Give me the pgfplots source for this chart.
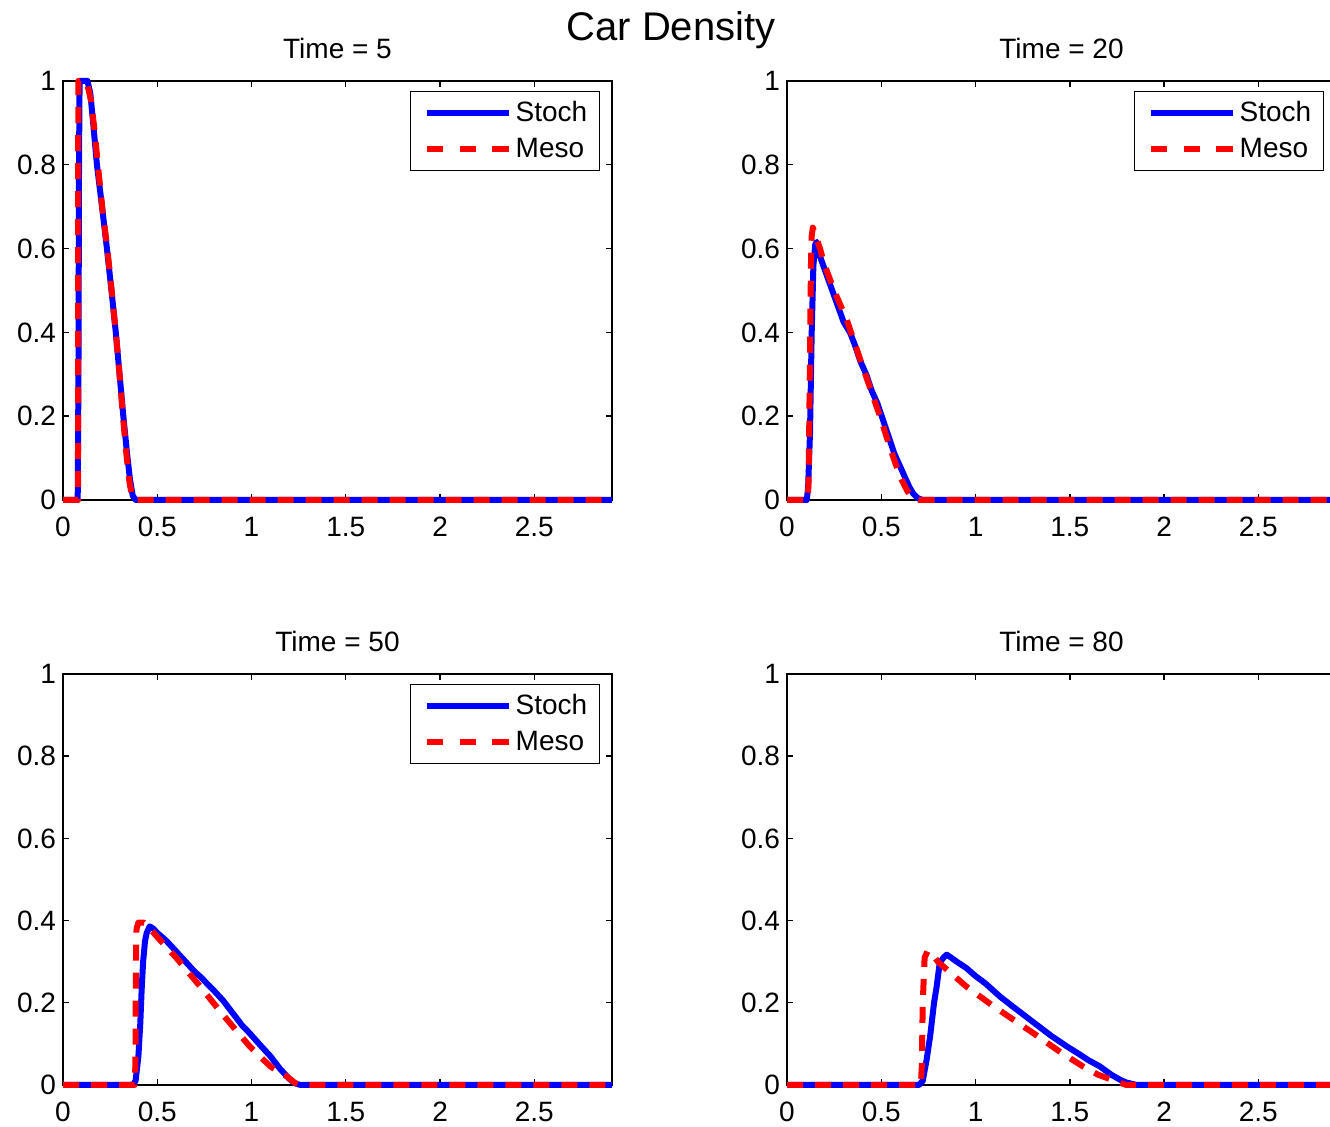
\documentclass[border=0pt]{standalone}
\usepackage{pgfplots}
\pgfplotsset{compat=1.18}
\usepackage{fontspec}
\setmainfont{Liberation Sans}

\pgfplotsset{
  carax/.style={
    scale only axis,
    width=274.5pt,
    xmin=0, xmax=2.912, ymin=0, ymax=1,
    xtick={0,0.5,1,1.5,2,2.5},
    ytick={0,0.2,0.4,0.6,0.8,1},
    yticklabels={0,0.2,0.4,0.6,0.8,1},
    xticklabels={0,0.5,1,1.5,2,2.5},
    tick align=inside,
    major tick length=3pt,
    axis line style={line width=0.7pt},
    every tick/.style={black, line width=0.7pt},
    tick label style={font=\fontsize{14}{16}\selectfont},
    xticklabel style={yshift=-5pt},
    /pgf/number format/assume math mode=true,
    clip=false,
    title style={font=\fontsize{14}{16}\selectfont, at={(0.5,1)}, anchor=base, yshift=5pt},
    legend style={draw=black, line width=0.7pt, fill=white,
      font=\fontsize{14}{16}\selectfont,
      at={(1,1)}, anchor=north east, xshift=-6pt, yshift=-5pt,
      row sep=2.5pt, inner xsep=4pt, inner ysep=3pt},
    legend cell align=left,
    legend image code/.code={\path (-2.5pt,0pt); \draw[#1] (0pt,0pt) -- (41pt,0pt);},
  },
  stoch/.style={blue, line width=3pt, line join=round},
  meso/.style={red, line width=3pt, line join=round, dash pattern=on 8pt off 6pt,
    legend image code/.code={\path (-2.5pt,0pt); \draw[red, line width=3pt, dash pattern=on 8.2pt off 8.2pt] (0pt,0pt) -- (41pt,0pt);}},
}

\begin{document}
\begin{tikzpicture}
\useasboundingbox (0,0) rectangle (665pt,563.5pt);
\clip (0,0) rectangle (665pt,563.5pt);

\node[anchor=base, font=\fontsize{20}{24}\selectfont] at (335.5pt,543pt) {Car Density};

% Time = 5
\begin{axis}[carax, at={(31.5pt,313.5pt)}, anchor=south west, height=209.5pt, title={Time = 5}]
\addplot[stoch] coordinates {
(0,0) (0.078,0) (0.082,0.3) (0.085,0.8) (0.088,1.0) (0.13,1.0) (0.145,0.97) (0.16,0.9)
(0.18,0.8) (0.207,0.7) (0.233,0.6) (0.257,0.5) (0.28,0.4) (0.30,0.3) (0.32,0.2)
(0.34,0.11) (0.355,0.05) (0.37,0.01) (0.385,0) (2.912,0)};
\addlegendentry{Stoch}
\addplot[meso] coordinates {
(0,0) (0.08,0) (0.081,1) (0.125,1) (0.15,0.95) (0.17,0.87) (0.185,0.8) (0.21,0.69)
(0.235,0.6) (0.258,0.5) (0.28,0.4) (0.30,0.3) (0.318,0.2) (0.336,0.11) (0.35,0.05)
(0.365,0.01) (0.38,0) (2.912,0)};
\addlegendentry{Meso}
\end{axis}

% Time = 20
\begin{axis}[carax, at={(393.5pt,313.5pt)}, anchor=south west, height=209.5pt, title={Time = 20}]
\addplot[stoch] coordinates {
(0,0) (0.105,0) (0.112,0.03) (0.122,0.16) (0.131,0.40) (0.14,0.56) (0.15,0.61)
(0.158,0.616) (0.168,0.595) (0.18,0.575) (0.20,0.55) (0.22,0.525) (0.24,0.50)
(0.26,0.475) (0.28,0.45) (0.30,0.425) (0.334,0.40) (0.36,0.37)
(0.39,0.33) (0.42,0.30) (0.45,0.26) (0.48,0.23) (0.51,0.19) (0.54,0.15)
(0.57,0.11) (0.60,0.08) (0.63,0.05) (0.65,0.03) (0.67,0.015) (0.695,0.004)
(0.72,0) (2.912,0)};
\addlegendentry{Stoch}
\addplot[meso] coordinates {
(0,0) (0.11,0) (0.115,0.05) (0.122,0.35) (0.127,0.56) (0.131,0.63) (0.137,0.65)
(0.145,0.64) (0.16,0.62) (0.175,0.60) (0.2,0.56) (0.25,0.50) (0.317,0.43) (0.40,0.32)
(0.493,0.20) (0.55,0.12) (0.60,0.055) (0.64,0.02) (0.67,0.005) (0.70,0) (2.912,0)};
\addlegendentry{Meso}
\end{axis}

% Time = 50
\begin{axis}[carax, at={(31.5pt,21pt)}, anchor=south west, height=205.5pt, title={Time = 50}]
\addplot[stoch] coordinates {
(0,0) (0.37,0) (0.385,0.01) (0.40,0.07) (0.41,0.15) (0.417,0.23) (0.425,0.30)
(0.435,0.35) (0.444,0.37) (0.46,0.386) (0.48,0.38) (0.50,0.37) (0.55,0.35)
(0.60,0.325) (0.65,0.30) (0.70,0.275) (0.727,0.264) (0.80,0.23) (0.85,0.205)
(0.90,0.175) (0.95,0.145) (0.99,0.126) (1.05,0.095) (1.10,0.07) (1.15,0.04)
(1.20,0.015) (1.23,0.004) (1.26,0) (2.912,0)};
\addlegendentry{Stoch}
\addplot[meso] coordinates {
(0,0) (0.38,0) (0.384,0.05) (0.387,0.30) (0.39,0.38) (0.40,0.395) (0.43,0.395)
(0.444,0.39) (0.50,0.36) (0.60,0.31) (0.727,0.24) (0.85,0.17) (0.99,0.094)
(1.10,0.045) (1.19,0.02) (1.23,0.005) (1.26,0) (2.912,0)};
\addlegendentry{Meso}
\end{axis}

% Time = 80
\begin{axis}[carax, at={(393.5pt,21pt)}, anchor=south west, height=205.5pt, title={Time = 80}]
\addplot[stoch] coordinates {
(0,0) (0.70,0) (0.72,0.01) (0.74,0.06) (0.759,0.118) (0.78,0.2) (0.794,0.24)
(0.81,0.297) (0.83,0.31) (0.847,0.317) (0.87,0.31) (0.90,0.30) (0.95,0.285)
(1.00,0.265) (1.05,0.248) (1.13,0.215) (1.20,0.19) (1.30,0.155) (1.40,0.12)
(1.484,0.094) (1.55,0.075) (1.60,0.06) (1.66,0.045) (1.72,0.025) (1.77,0.012)
(1.80,0.006) (1.855,0) (2.912,0)};
\addplot[meso] coordinates {
(0,0) (0.71,0) (0.715,0.045) (0.72,0.2) (0.73,0.31) (0.745,0.325) (0.76,0.325)
(0.80,0.30) (0.95,0.24) (1.10,0.19) (1.307,0.126) (1.45,0.08) (1.57,0.045)
(1.65,0.025) (1.75,0.008) (1.80,0) (2.912,0)};
\end{axis}
\end{tikzpicture}
\end{document}
